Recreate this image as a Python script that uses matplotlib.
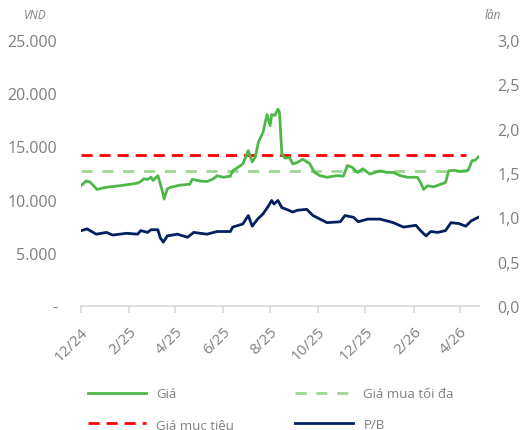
import pandas as pd
import matplotlib.pyplot as plt
from matplotlib.ticker import FixedLocator, FuncFormatter

plt.rcParams['font.family'] = ['Open Sans', 'DejaVu Sans']

# Giá cổ phiếu (nghìn VND)
price_dates = ["2024-12-02", "2024-12-08", "2024-12-13", "2024-12-22", "2024-12-30",
               "2025-01-07", "2025-01-20", "2025-02-03", "2025-02-12", "2025-02-16",
               "2025-02-20", "2025-02-25", "2025-03-01", "2025-03-04", "2025-03-10",
               "2025-03-13", "2025-03-16", "2025-03-18", "2025-03-22", "2025-03-26",
               "2025-04-07", "2025-04-20", "2025-04-23", "2025-05-03", "2025-05-12",
               "2025-05-20", "2025-05-25", "2025-06-02", "2025-06-11", "2025-06-14",
               "2025-06-21", "2025-06-27", "2025-07-04", "2025-07-09", "2025-07-13",
               "2025-07-17", "2025-07-23", "2025-07-28", "2025-08-01", "2025-08-03",
               "2025-08-07", "2025-08-11", "2025-08-13", "2025-08-16", "2025-08-20",
               "2025-08-26", "2025-08-30", "2025-09-05", "2025-09-12", "2025-09-21",
               "2025-09-27", "2025-10-04", "2025-10-13", "2025-10-26", "2025-11-03",
               "2025-11-08", "2025-11-14", "2025-11-21", "2025-11-28", "2025-12-07",
               "2025-12-20", "2025-12-29", "2026-01-06", "2026-01-15", "2026-01-24",
               "2026-02-06", "2026-02-10", "2026-02-14", "2026-02-19", "2026-02-27",
               "2026-03-08", "2026-03-14", "2026-03-18", "2026-03-25", "2026-04-02",
               "2026-04-12", "2026-04-17", "2026-04-21", "2026-04-25"]
price = [11.35, 11.75, 11.65, 10.95, 11.10,
         11.20, 11.30, 11.45, 11.55, 11.70,
         11.95, 11.90, 12.10, 11.80, 12.25,
         11.50, 10.70, 10.05, 11.00, 11.15,
         11.35, 11.45, 11.90, 11.75, 11.70,
         11.95, 12.25, 12.10, 12.20, 12.70,
         13.05, 13.35, 14.60, 13.55, 14.00,
         15.40, 16.35, 18.00, 16.95, 18.00,
         17.90, 18.50, 18.20, 14.30, 13.90,
         13.95, 13.35, 13.50, 13.80, 13.35,
         12.55, 12.25, 12.10, 12.25, 12.20,
         13.20, 13.05, 12.55, 12.90, 12.40,
         12.70, 12.55, 12.55, 12.25, 12.10,
         12.10, 11.60, 10.95, 11.30, 11.20,
         11.45, 11.60, 12.70, 12.75, 12.65,
         12.75, 13.65, 13.70, 14.00]

# P/B (lần)
pb_dates = ["2024-12-02", "2024-12-09", "2024-12-21", "2025-01-03", "2025-01-11",
            "2025-01-29", "2025-02-12", "2025-02-16", "2025-02-25", "2025-03-01",
            "2025-03-10", "2025-03-13", "2025-03-17", "2025-03-22", "2025-04-04",
            "2025-04-17", "2025-04-25", "2025-05-12", "2025-05-25", "2025-06-11",
            "2025-06-14", "2025-06-27", "2025-07-04", "2025-07-09", "2025-07-16",
            "2025-07-23", "2025-07-30", "2025-08-03", "2025-08-06", "2025-08-11",
            "2025-08-16", "2025-08-22", "2025-08-30", "2025-09-05", "2025-09-17",
            "2025-09-25", "2025-10-04", "2025-10-13", "2025-10-30", "2025-11-05",
            "2025-11-16", "2025-11-22", "2025-12-04", "2025-12-20", "2026-01-06",
            "2026-01-19", "2026-02-04", "2026-02-10", "2026-02-17", "2026-02-23",
            "2026-03-04", "2026-03-14", "2026-03-21", "2026-03-31", "2026-04-09",
            "2026-04-16", "2026-04-25"]
pb = [0.85, 0.87, 0.81, 0.83, 0.80,
      0.82, 0.81, 0.85, 0.83, 0.86,
      0.86, 0.77, 0.72, 0.79, 0.81,
      0.775, 0.83, 0.81, 0.84, 0.84,
      0.89, 0.925, 1.02, 0.90, 0.98,
      1.04, 1.13, 1.19, 1.15, 1.19,
      1.11, 1.09, 1.06, 1.08, 1.09,
      1.02, 0.98, 0.94, 0.95, 1.02,
      1.00, 0.95, 0.98, 0.98, 0.94,
      0.89, 0.91, 0.85, 0.79, 0.84,
      0.83, 0.85, 0.94, 0.93, 0.90,
      0.96, 1.00]

target_price = 14.2      # Giá mục tiêu
max_buy_price = 12.7     # Giá mua tối đa
target_span = ["2024-12-02", "2026-04-09"]
max_buy_span = ["2024-12-02", "2026-04-16"]

month_ticks = ["2024-12-01", "2025-02-01", "2025-04-01", "2025-06-01", "2025-08-01",
               "2025-10-01", "2025-12-01", "2026-02-01", "2026-04-01"]
month_labels = ["12/24", "2/25", "4/25", "6/25", "8/25", "10/25", "12/25", "2/26", "4/26"]
left_ticks = [0, 5, 10, 15, 20, 25]
right_ticks = [0, 0.5, 1.0, 1.5, 2.0, 2.5, 3.0]

price_dates = pd.to_datetime(price_dates)
pb_dates = pd.to_datetime(pb_dates)
target_span = pd.to_datetime(target_span)
max_buy_span = pd.to_datetime(max_buy_span)
month_ticks = pd.to_datetime(month_ticks)

GREY = "#7f7f7f"
AXIS = "#d9d9d9"

fig = plt.figure(figsize=(5.22, 4.31), dpi=100)
ax = fig.add_axes([0.1546, 0.2877, 0.7631, 0.6172])
ax2 = ax.twinx()

l_price, = ax.plot(price_dates, price, color="#4DB848", lw=2.0, label="Giá", zorder=3)
l_max, = ax.plot(max_buy_span, [max_buy_price] * 2, color="#9ED693", lw=2.0,
                 dashes=(4, 3.5), label="Giá mua tối đa", zorder=2)
l_target, = ax.plot(target_span, [target_price] * 2, color="#FF0000", lw=2.0,
                    dashes=(4, 2.5), label="Giá mục tiêu", zorder=2)
l_pb, = ax2.plot(pb_dates, pb, color="#002060", lw=2.0, label="P/B")

ax.set_xlim(pd.Timestamp("2024-12-01"), pd.Timestamp("2026-04-26"))
ax.set_ylim(0, 25)
ax2.set_ylim(0, 3.0)

ax.yaxis.set_major_locator(FixedLocator(left_ticks))
ax.yaxis.set_major_formatter(FuncFormatter(
    lambda v, p: "-" if v == 0 else f"{v * 1000:,.0f}".replace(",", ".")))
ax2.yaxis.set_major_locator(FixedLocator(right_ticks))
ax2.yaxis.set_major_formatter(FuncFormatter(lambda v, p: f"{v:.1f}".replace(".", ",")))

ax.set_xticks(month_ticks)
ax.set_xticklabels(month_labels, rotation=45, ha="right", rotation_mode="anchor")

for a in (ax, ax2):
    for s in a.spines.values():
        s.set_visible(False)
ax.spines["bottom"].set_visible(True)
ax.spines["bottom"].set_color(AXIS)
ax.spines["bottom"].set_linewidth(1.2)

ax.tick_params(axis="x", colors=AXIS, length=5, width=1.2, labelcolor=GREY,
               labelsize=11, pad=8)
ax.tick_params(axis="y", length=0, labelcolor=GREY, labelsize=11.5, pad=17)
ax2.tick_params(axis="y", length=0, labelcolor=GREY, labelsize=11.5, pad=13)

fig.text(0.067, 0.955, "VND", color=GREY, fontsize=8.5, style="italic", ha="center")
fig.text(0.945, 0.955, "lần", color=GREY, fontsize=8.5, style="italic", ha="center")

# legend laid out row by row: (Giá, Giá mua tối đa) / (Giá mục tiêu, P/B)
fig.legend(handles=[l_price, l_target, l_max, l_pb], loc="lower left",
           bbox_to_anchor=(0.145, -0.03), ncol=2, frameon=False, fontsize=9.5,
           labelcolor=GREY, handlelength=4.4, columnspacing=4.6, handletextpad=0.8,
           labelspacing=1.35)

fig.savefig("out.png", dpi=100)
